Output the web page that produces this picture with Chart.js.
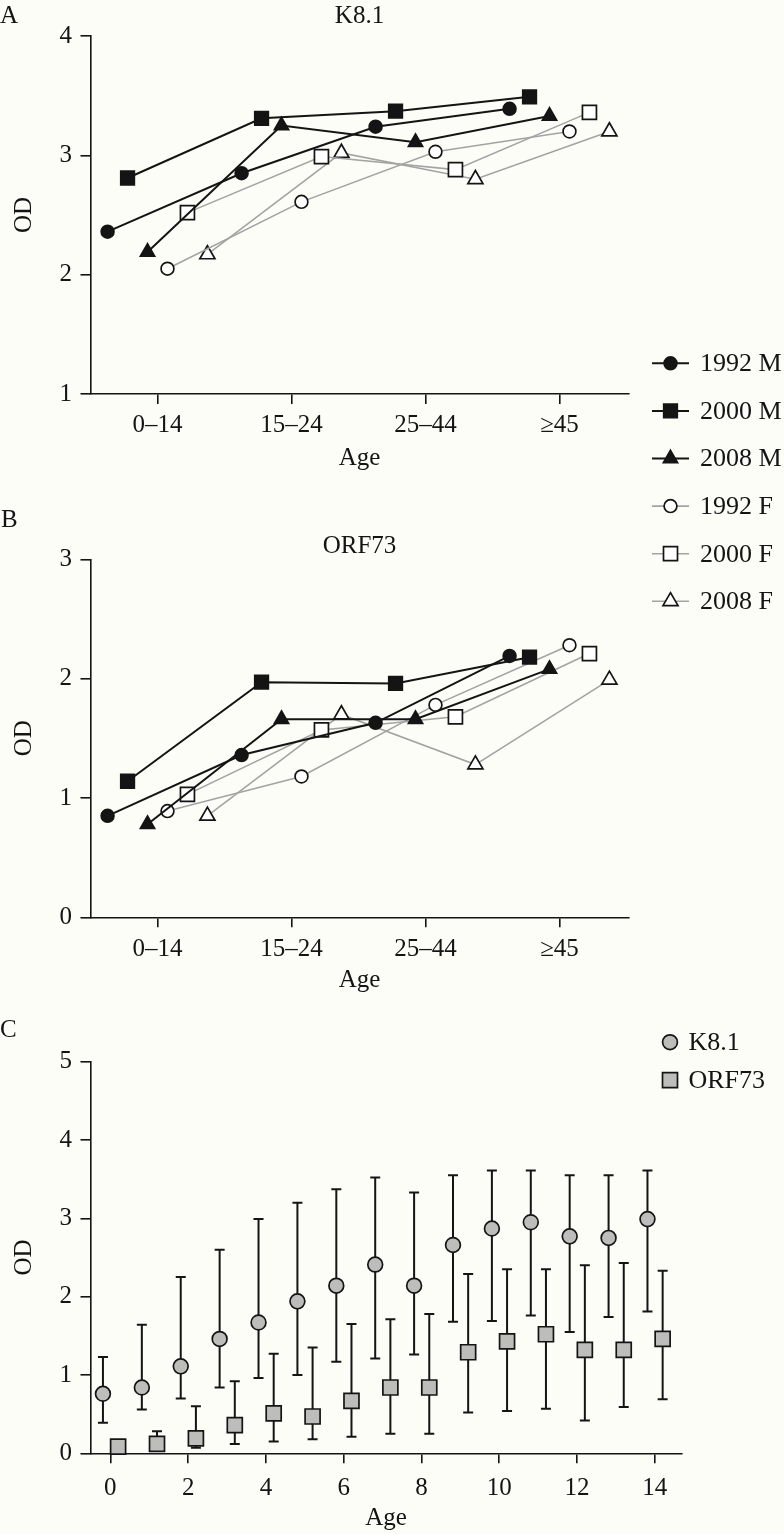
<!DOCTYPE html>
<html>
<head>
<meta charset="utf-8">
<script src="https://cdn.jsdelivr.net/npm/chart.js"></script>
<style>
  html, body { margin: 0; padding: 0; background: #fdfdf8; }
  #wrap { position: relative; width: 784px; height: 1534px; overflow: hidden; }
  canvas { position: absolute; left: 0; }
</style>
</head>
<body>
<div id="wrap">
  <canvas id="cA" width="784" height="620" style="top:0;width:784px;height:620px"></canvas>
  <canvas id="cB" width="784" height="520" style="top:480px;width:784px;height:520px"></canvas>
  <canvas id="cC" width="784" height="534" style="top:1000px;width:784px;height:534px"></canvas>
</div>
<script>
// ---------------- DATA ----------------
const ageGroups = ['0–14', '15–24', '25–44', '≥45'];
const groupNames = ['1992 M', '2000 M', '2008 M', '1992 F', '2000 F', '2008 F'];

// Panel A: K8.1 OD by age group
const k81_1992M = [2.36, 2.85, 3.24, 3.39];
const k81_2000M = [2.81, 3.31, 3.37, 3.49];
const k81_2008M = [2.19, 3.25, 3.11, 3.33];
const k81_1992F = [2.05, 2.61, 3.03, 3.20];
const k81_2000F = [2.52, 2.99, 2.88, 3.36];
const k81_2008F = [2.17, 3.02, 2.80, 3.20];

// Panel B: ORF73 OD by age group
const orf_1992M = [0.85, 1.36, 1.63, 2.19];
const orf_2000M = [1.14, 1.97, 1.96, 2.18];
const orf_2008M = [0.78, 1.66, 1.66, 2.08];
const orf_1992F = [0.89, 1.18, 1.78, 2.28];
const orf_2000F = [1.03, 1.57, 1.68, 2.21];
const orf_2008F = [0.85, 1.70, 1.28, 1.99];

// Panel C: OD by single year of age (mean with range bars)
const ages     = [0, 1, 2, 3, 4, 5, 6, 7, 8, 9, 10, 11, 12, 13, 14];
const ageTicks = [0, 2, 4, 6, 8, 10, 12, 14];
const k81Mean = [0.76, 0.84, 1.11, 1.46, 1.67, 1.94, 2.14, 2.41, 2.14, 2.66, 2.87, 2.95, 2.77, 2.75, 2.99];
const k81High = [1.23, 1.64, 2.25, 2.60, 2.99, 3.20, 3.37, 3.52, 3.33, 3.55, 3.61, 3.61, 3.55, 3.55, 3.61];
const k81Low  = [0.39, 0.56, 0.70, 0.84, 0.96, 1.00, 1.17, 1.21, 1.26, 1.68, 1.69, 1.76, 1.55, 1.74, 1.81];
const orfMean = [0.085, 0.12, 0.19, 0.36, 0.51, 0.47, 0.67, 0.84, 0.84, 1.29, 1.43, 1.52, 1.32, 1.32, 1.46];
const orfHigh = [0.12, 0.28, 0.60, 0.92, 1.27, 1.35, 1.65, 1.71, 1.78, 2.29, 2.35, 2.35, 2.40, 2.43, 2.33];
const orfLow  = [0.05, 0.06, 0.07, 0.12, 0.15, 0.18, 0.21, 0.25, 0.25, 0.52, 0.54, 0.57, 0.42, 0.59, 0.69];

// ---------------- STYLE ----------------
const FONT = "'Liberation Serif', 'Times New Roman', serif";
const INK = '#141414';
const GREY = '#a3a3a3';
const FS = 25;
const LEGEND_FS = 26;
const DODGE = 0.149;

Chart.defaults.font.family = FONT;
Chart.defaults.color = INK;

const seriesStyle = [
  { pointStyle: 'circle',   radius: 6.4, fill: INK,    line: INK,  lw: 2.0 },
  { pointStyle: 'rect',     radius: 9.6, fill: INK,    line: INK,  lw: 2.0 },
  { pointStyle: 'triangle', radius: 8.2, fill: INK,    line: INK,  lw: 2.0 },
  { pointStyle: 'circle',   radius: 6.4, fill: '#fff', line: GREY, lw: 1.6 },
  { pointStyle: 'rect',     radius: 9.9, fill: '#fff', line: GREY, lw: 1.6 },
  { pointStyle: 'triangle', radius: 8.7, fill: '#fff', line: GREY, lw: 1.6 }
];

function groupDatasets(seriesValues) {
  return seriesValues.map((vals, s) => {
    const st = seriesStyle[s];
    const dodge = (s - 2.5) * DODGE;
    return {
      label: groupNames[s],
      data: vals.map((v, i) => ({ x: i + dodge, y: v })),
      showLine: true,
      borderColor: st.line,
      borderWidth: st.lw,
      pointStyle: st.pointStyle,
      pointRadius: st.radius,
      pointBackgroundColor: st.fill,
      pointBorderColor: INK,
      pointBorderWidth: 1.7,
      tension: 0,
      fill: false,
      clip: false
    };
  });
}

function axisBase() {
  return {
    border: { display: true, color: INK, width: 1.6 },
    grid: { display: true, drawOnChartArea: false, drawTicks: true, tickLength: 10, color: INK, lineWidth: 1.6 }
  };
}

function xAxis(opts) {
  return Object.assign(axisBase(), {
    type: 'linear',
    position: 'bottom',
    min: opts.min, max: opts.max,
    afterBuildTicks: s => { s.ticks = opts.tickValues.map(v => ({ value: v })); },
    afterFit: s => { s.height = opts.height; },
    ticks: {
      autoSkip: false, maxRotation: 0, minRotation: 0,
      padding: opts.tickPad,
      color: INK,
      font: { family: FONT, size: FS, lineHeight: 1.2 },
      callback: opts.labelFn
    },
    title: {
      display: true, text: 'Age', color: INK,
      font: { family: FONT, size: FS, lineHeight: 1.2 },
      padding: { top: 0, bottom: opts.titlePad }
    }
  });
}

function yAxis(opts) {
  return Object.assign(axisBase(), {
    type: 'linear',
    position: 'left',
    min: opts.min, max: opts.max,
    afterFit: s => { s.width = 90.5; },
    ticks: {
      stepSize: 1, padding: 8.5, color: INK,
      font: { family: FONT, size: FS, lineHeight: 1.2 }
    },
    title: {
      display: true, text: 'OD', color: INK,
      font: { family: FONT, size: FS, lineHeight: 1.2 },
      padding: { top: 9, bottom: 0 }
    }
  });
}

// ---------------- PLUGINS ----------------
const panelText = {
  id: 'panelText',
  afterDraw(chart, args, o) {
    const ctx = chart.ctx;
    ctx.save();
    ctx.fillStyle = INK;
    ctx.textBaseline = 'alphabetic';
    ctx.font = FS + 'px ' + FONT;
    ctx.textAlign = 'left';
    ctx.fillText(o.letter, o.letterX, o.letterY);
    if (o.title) {
      const ca = chart.chartArea;
      ctx.textAlign = 'center';
      ctx.fillText(o.title, (ca.left + ca.right) / 2, o.titleY);
    }
    ctx.restore();
  }
};

function drawMarker(ctx, style, radius, bw, x, y) {
  if (Chart.helpers && Chart.helpers.drawPoint) {
    Chart.helpers.drawPoint(ctx, { pointStyle: style, radius: radius, borderWidth: bw, rotation: 0 }, x, y);
    return;
  }
  ctx.lineWidth = bw;
  ctx.beginPath();
  if (style === 'circle') ctx.arc(x, y, radius, 0, Math.PI * 2);
  else if (style === 'rect') { const s = radius * Math.SQRT1_2; ctx.rect(x - s, y - s, 2 * s, 2 * s); }
  else { for (let k = 0; k < 3; k++) { const a = k * 2 * Math.PI / 3; const px = x + Math.sin(a) * radius, py = y - Math.cos(a) * radius; k ? ctx.lineTo(px, py) : ctx.moveTo(px, py); } ctx.closePath(); }
  ctx.fill(); if (bw > 0) ctx.stroke();
}

const sideLegend = {
  id: 'sideLegend',
  afterDraw(chart, args, o) {
    if (!o || o.markerX == null) return;
    const ctx = chart.ctx;
    ctx.save();
    chart.data.datasets.forEach((ds, i) => {
      const y = o.y0 + i * o.dy;
      if (o.lineFrom != null) {
        ctx.strokeStyle = ds.borderColor;
        ctx.lineWidth = ds.borderWidth;
        ctx.beginPath();
        ctx.moveTo(o.lineFrom, y);
        ctx.lineTo(o.lineTo, y);
        ctx.stroke();
      }
      ctx.fillStyle = ds.pointBackgroundColor;
      ctx.strokeStyle = ds.pointBorderColor;
      ctx.lineWidth = ds.pointBorderWidth;
      drawMarker(ctx, ds.pointStyle, ds.pointRadius, ds.pointBorderWidth, o.markerX, y);
      ctx.fillStyle = INK;
      ctx.font = LEGEND_FS + 'px ' + FONT;
      ctx.textAlign = 'left';
      ctx.textBaseline = 'middle';
      ctx.fillText(ds.label, o.textX, y + 1);
    });
    ctx.restore();
  }
};

const errorBars = {
  id: 'errorBars',
  beforeDatasetsDraw(chart, args, o) {
    if (!o || !o.cap) return;
    const ctx = chart.ctx, ys = chart.scales.y;
    ctx.save();
    ctx.strokeStyle = o.color;
    ctx.lineWidth = o.width;
    chart.data.datasets.forEach((ds, di) => {
      if (!ds.errLow) return;
      const meta = chart.getDatasetMeta(di);
      meta.data.forEach((pt, i) => {
        const x = pt.x;
        const yl = ys.getPixelForValue(ds.errLow[i]);
        const yh = ys.getPixelForValue(ds.errHigh[i]);
        ctx.beginPath();
        ctx.moveTo(x, yl); ctx.lineTo(x, yh);
        ctx.moveTo(x - o.cap, yl); ctx.lineTo(x + o.cap, yl);
        ctx.moveTo(x - o.cap, yh); ctx.lineTo(x + o.cap, yh);
        ctx.stroke();
      });
    });
    ctx.restore();
  }
};

const groupLabel = (v) => ageGroups[Math.round(v)] ?? '';
const groupTickValues = ageGroups.map((_, i) => i);

function baseOptions() {
  return {
    responsive: false,
    animation: false,
    devicePixelRatio: 1,
    events: [],
    plugins: { legend: { display: false }, tooltip: { enabled: false }, title: { display: false } }
  };
}

// ---------------- PANEL A ----------------
const optA = baseOptions();
optA.layout = { padding: { left: 0, top: 36, right: 155.5, bottom: 140 } };
optA.scales = {
  x: xAxis({ min: -0.5, max: 3.515, tickValues: groupTickValues, labelFn: groupLabel, height: 86, tickPad: 6, titlePad: 7 }),
  y: yAxis({ min: 1, max: 4 })
};
optA.plugins.panelText = { letter: 'A', letterX: 0, letterY: 22.5, title: 'K8.1', titleY: 23 };
optA.plugins.sideLegend = { y0: 363.3, dy: 47.6, lineFrom: 652, lineTo: 689, markerX: 670.5, textX: 700 };
new Chart(document.getElementById('cA'), {
  type: 'scatter',
  data: { datasets: groupDatasets([k81_1992M, k81_2000M, k81_2008M, k81_1992F, k81_2000F, k81_2008F]) },
  options: optA,
  plugins: [panelText, sideLegend]
});

// ---------------- PANEL B ----------------
const optB = baseOptions();
optB.layout = { padding: { left: 0, top: 79.3, right: 155.5, bottom: 0 } };
optB.scales = {
  x: xAxis({ min: -0.5, max: 3.515, tickValues: groupTickValues, labelFn: groupLabel, height: 82.7, tickPad: 6.7, titlePad: 5 }),
  y: yAxis({ min: 0, max: 3 })
};
optB.plugins.panelText = { letter: 'B', letterX: 1, letterY: 46.7, title: 'ORF73', titleY: 73.3 };
new Chart(document.getElementById('cB'), {
  type: 'scatter',
  data: { datasets: groupDatasets([orf_1992M, orf_2000M, orf_2008M, orf_1992F, orf_2000F, orf_2008F]) },
  options: optB,
  plugins: [panelText]
});

// ---------------- PANEL C ----------------
const optC = baseOptions();
optC.layout = { padding: { left: 0, top: 61.7, right: 102.3, bottom: 0 } };
optC.scales = {
  x: xAxis({ min: -0.51, max: 14.69, tickValues: ageTicks, labelFn: (v) => String(v), height: 80.7, tickPad: 10, titlePad: 0.7 }),
  y: yAxis({ min: 0, max: 5 })
};
optC.plugins.panelText = { letter: 'C', letterX: 0, letterY: 37 };
optC.plugins.sideLegend = { y0: 42.2, dy: 38, markerX: 670, textX: 688.5 };
optC.plugins.errorBars = { cap: 5, width: 2, color: INK };
const cFill = '#bdbdba';
new Chart(document.getElementById('cC'), {
  type: 'scatter',
  data: {
    datasets: [
      {
        label: 'K8.1',
        data: ages.map((a, i) => ({ x: a - 0.19, y: k81Mean[i] })),
        errLow: k81Low, errHigh: k81High,
        showLine: false, pointStyle: 'circle', pointRadius: 7.4,
        pointBackgroundColor: cFill, pointBorderColor: INK, pointBorderWidth: 1.7, clip: false
      },
      {
        label: 'ORF73',
        data: ages.map((a, i) => ({ x: a + 0.2, y: orfMean[i] })),
        errLow: orfLow, errHigh: orfHigh,
        showLine: false, pointStyle: 'rect', pointRadius: 10.6,
        pointBackgroundColor: cFill, pointBorderColor: INK, pointBorderWidth: 1.7, clip: false
      }
    ]
  },
  options: optC,
  plugins: [panelText, sideLegend, errorBars]
});
</script>
</body>
</html>
